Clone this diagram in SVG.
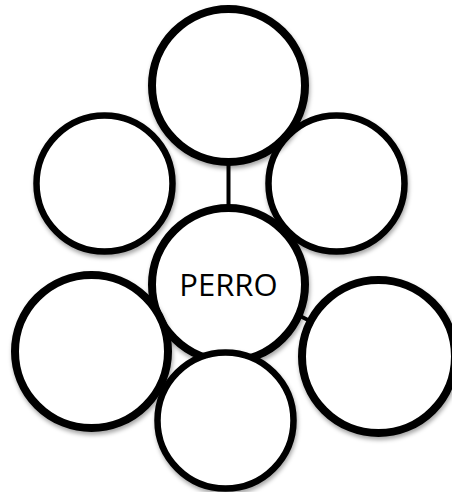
<svg xmlns="http://www.w3.org/2000/svg" width="452" height="492" viewBox="0 0 452 492">
<defs>
<filter id="sh" x="-20%" y="-20%" width="140%" height="140%">
<feDropShadow dx="1" dy="3" stdDeviation="2" flood-color="#000" flood-opacity="0.35"/>
</filter>
</defs>
<style>
.c{fill:#fff;stroke:#000;filter:url(#sh)}
.t{stroke-width:8}
.n{stroke-width:6.5}
.l{stroke:#000;stroke-width:4}
text{font-family:"Open Sans","Liberation Sans",sans-serif;font-size:31px;fill:#000}
</style>
<rect width="452" height="492" fill="#fff"/>
<g id="connectors">
<line class="l" x1="228.5" y1="160" x2="228.5" y2="210"/>
<line class="l" x1="296" y1="314" x2="308" y2="320"/>
</g>
<g id="node-upper-left"><circle class="c n" cx="104.5" cy="183.5" r="68"/></g>
<g id="node-upper-right"><circle class="c n" cx="336.5" cy="183.5" r="68"/></g>
<g id="node-top"><circle class="c t" cx="228.5" cy="85.5" r="76.5"/></g>
<g id="node-center"><circle class="c t" cx="228.5" cy="284.5" r="76.5"/>
<text x="228.5" y="296" text-anchor="middle">PERRO</text></g>
<g id="node-lower-left"><circle class="c t" cx="91.5" cy="351.5" r="76.5"/></g>
<g id="node-lower-right"><circle class="c t" cx="378.5" cy="356.5" r="76.5"/></g>
<g id="node-bottom"><circle class="c n" cx="225.5" cy="420.5" r="68"/></g>
</svg>
